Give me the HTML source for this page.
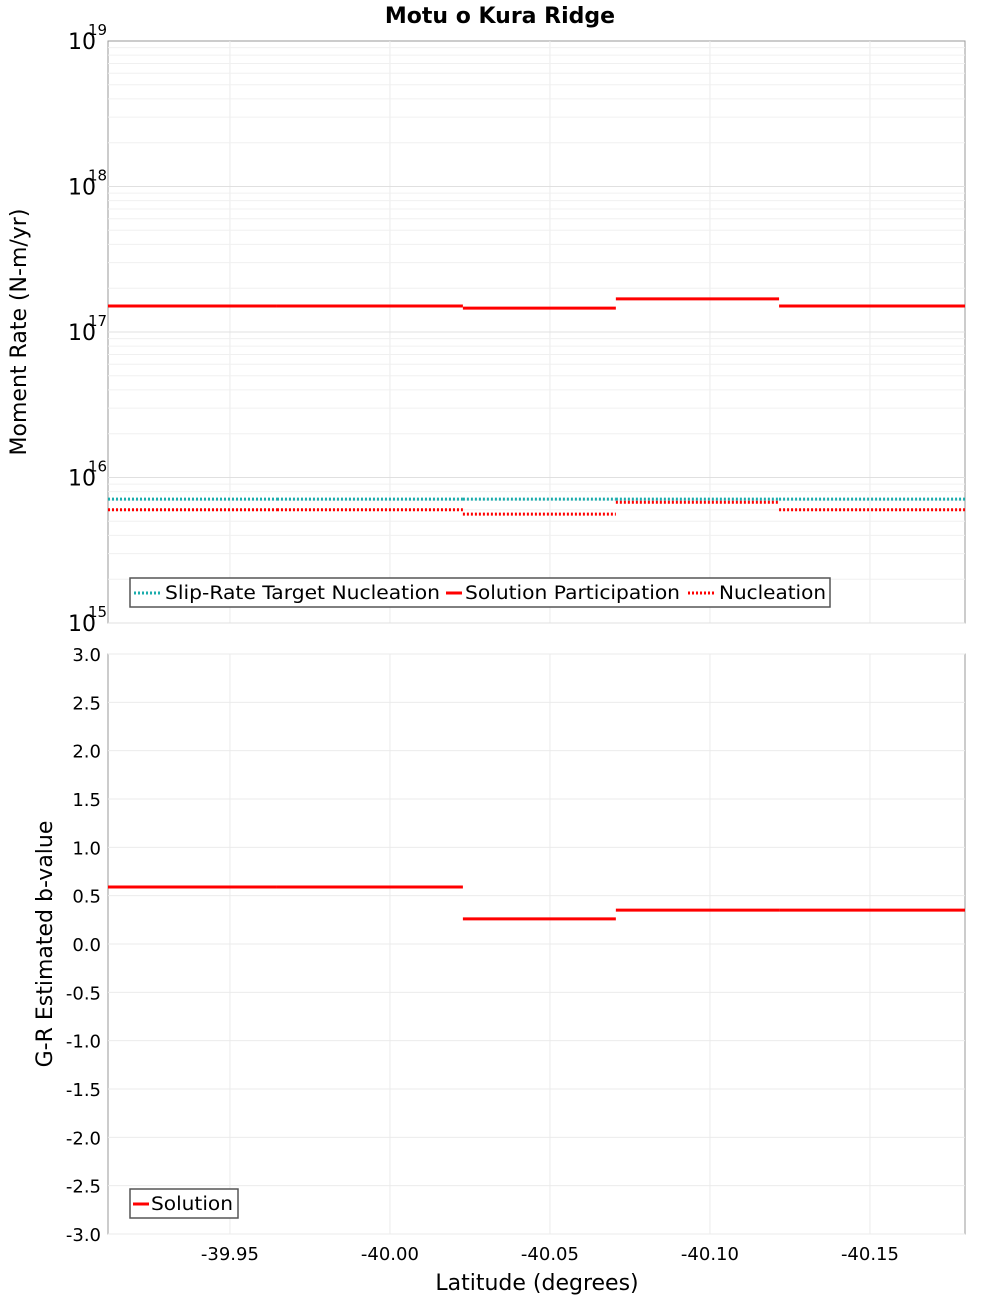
<!DOCTYPE html>
<html><head><meta charset="utf-8"><style>
body{margin:0;background:#fff}
svg{font-family:"DejaVu Sans","Liberation Sans",sans-serif}
</style></head><body>
<svg id="c" width="1000" height="1300" xmlns="http://www.w3.org/2000/svg"></svg>
<script>
const sectionStarts=[-39.9119,-39.9647,-40.0228,-40.0706,-40.1216];
const sectionEnds=[-39.9647,-40.0228,-40.0706,-40.1216,-40.1797];
const targetNucleation=[7.1e15,7.1e15,7.1e15,7.1e15,7.1e15];
const solutionParticipation=[1.51e17,1.51e17,1.46e17,1.69e17,1.51e17];
const nucleation=[6.0e15,6.0e15,5.6e15,6.76e15,6.0e15];
const bValues=[0.59,0.59,0.26,0.35,0.35];
const xTicks=[-39.95,-40.00,-40.05,-40.10,-40.15];
const xTickLabels=["-39.95","-40.00","-40.05","-40.10","-40.15"];
const logTicks=[15,16,17,18,19];
const bTicks=[-3,-2.5,-2,-1.5,-1,-0.5,0,0.5,1,1.5,2,2.5,3];

const NS="http://www.w3.org/2000/svg",svg=document.getElementById('c');
const L=108,R=965,T1=41,B1=623,T2=654,B2=1234;
const xMin=-39.9119,xMax=-40.1797;
const X=v=>L+(v-xMin)/(xMax-xMin)*(R-L);
const Y1=v=>B1-(Math.log10(v)-15)/4*(B1-T1);
const Y2=v=>B2-(v+3)/6*(B2-T2);
function el(t,a,name,p){const e=document.createElementNS(NS,t);for(const k in a)e.setAttribute(k,a[k]);


(p||svg).appendChild(e);return e;}
function txt(x,y,s,a,name){const e=el('text',Object.assign({x:x,y:y},a),name);e.textContent=s;return e;}

el('rect',{x:L,y:T1,width:R-L,height:B1-T1,fill:'#fff',stroke:'#999'},'top-plot-area');
el('rect',{x:L,y:T2,width:R-L,height:B2-T2,fill:'#fff',stroke:'#999'},'bottom-plot-area');
xTicks.forEach((t,i)=>{
 el('line',{x1:X(t),x2:X(t),y1:T1,y2:B1,stroke:'#ebebeb'},'top-x-grid');
 el('line',{x1:X(t),x2:X(t),y1:T2,y2:B2,stroke:'#ebebeb'},'bottom-x-grid');
 txt(X(t),1260,xTickLabels[i],{'font-size':18,'text-anchor':'middle'},'x-tick-label');
});
for(let d=15;d<19;d++)for(let m=1;m<10;m++){const v=m*Math.pow(10,d);
 el('line',{x1:L,x2:R,y1:Y1(v),y2:Y1(v),stroke:m==1?'#e0e0e0':'#f0f0f0'},'top-y-grid');}
logTicks.forEach(d=>{const y=Y1(Math.pow(10,d));
 txt(96,y+8,'10',{'font-size':22,'text-anchor':'end'},'y-tick-label');
 txt(88,y-6,String(d),{'font-size':15},'y-tick-exponent');});
bTicks.forEach(b=>{const y=Y2(b);
 el('line',{x1:L,x2:R,y1:y,y2:y,stroke:'#ebebeb'},'bottom-y-grid');
 txt(101,y+7,b.toFixed(1),{'font-size':18,'text-anchor':'end'},'b-tick-label');});
sectionStarts.forEach((s,i)=>{const e=sectionEnds[i];
 el('line',{x1:X(s),x2:X(e),y1:Y1(targetNucleation[i]),y2:Y1(targetNucleation[i]),stroke:'#1aacac','stroke-width':3,'stroke-dasharray':'2,2'},'target-nucleation-segment');
 el('line',{x1:X(s),x2:X(e),y1:Y1(nucleation[i]),y2:Y1(nucleation[i]),stroke:'#f00','stroke-width':3,'stroke-dasharray':'2,2'},'nucleation-segment');
 el('line',{x1:X(s),x2:X(e),y1:Y1(solutionParticipation[i]),y2:Y1(solutionParticipation[i]),stroke:'#f00','stroke-width':3},'participation-segment');
 el('line',{x1:X(s),x2:X(e),y1:Y2(bValues[i]),y2:Y2(bValues[i]),stroke:'#f00','stroke-width':3},'b-value-segment');
});
txt(500,23,'Motu o Kura Ridge',{'font-size':22,'font-weight':'bold','text-anchor':'middle'},'chart-title');
txt(537,1290,'Latitude (degrees)',{'font-size':22,'text-anchor':'middle'},'x-axis-title');
txt(26,332,'Moment Rate (N-m/yr)',{'font-size':22,'text-anchor':'middle',transform:'rotate(-90 26 332)'},'top-y-axis-title');
txt(52,944,'G-R Estimated b-value',{'font-size':22,'text-anchor':'middle',transform:'rotate(-90 52 944)'},'bottom-y-axis-title');
const g1=el('g',{},'top-legend');
el('rect',{x:130,y:578,width:700,height:29,fill:'#fff',stroke:'#555','stroke-width':1.5},'legend-box',g1);
el('line',{x1:134,x2:161,y1:593,y2:593,stroke:'#1aacac','stroke-width':3,'stroke-dasharray':'2,2'},'legend-target-swatch',g1);
txt(165,599,'Slip-Rate Target Nucleation',{'font-size':18.5,textLength:275,lengthAdjust:'spacingAndGlyphs'},'legend-target-label');
el('line',{x1:446,x2:462,y1:593,y2:593,stroke:'#f00','stroke-width':3},'legend-participation-swatch',g1);
txt(465,599,'Solution Participation',{'font-size':18.5,textLength:215,lengthAdjust:'spacingAndGlyphs'},'legend-participation-label');
el('line',{x1:688,x2:716,y1:593,y2:593,stroke:'#f00','stroke-width':3,'stroke-dasharray':'2,2'},'legend-nucleation-swatch',g1);
txt(719,599,'Nucleation',{'font-size':18.5,textLength:107,lengthAdjust:'spacingAndGlyphs'},'legend-nucleation-label');
const g2=el('g',{},'bottom-legend');
el('rect',{x:130,y:1189,width:108,height:29,fill:'#fff',stroke:'#555','stroke-width':1.5},'legend-box',g2);
el('line',{x1:133,x2:149,y1:1204,y2:1204,stroke:'#f00','stroke-width':3},'legend-solution-swatch',g2);
txt(151,1210,'Solution',{'font-size':18.5,textLength:82,lengthAdjust:'spacingAndGlyphs'},'legend-solution-label');
</script>
</body></html>
